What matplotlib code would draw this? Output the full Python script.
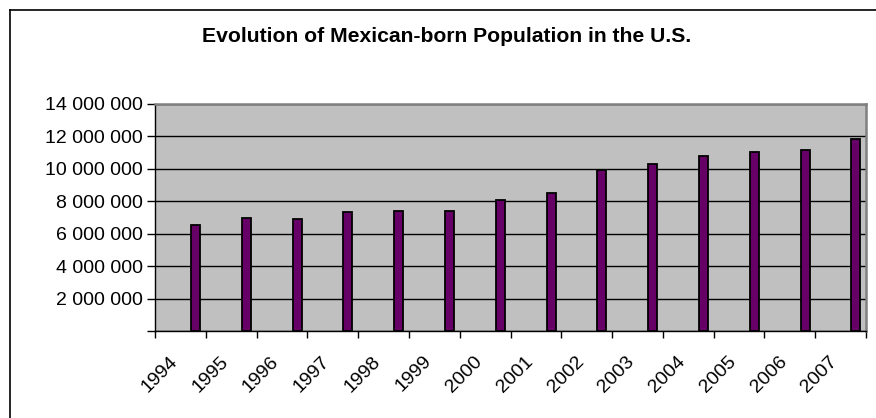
import matplotlib
matplotlib.use("Agg")
import matplotlib.pyplot as plt
from matplotlib.lines import Line2D
import numpy as np

plt.rcParams["font.family"] = ["Liberation Sans", "DejaVu Sans"]

years = ["1994", "1995", "1996", "1997", "1998", "1999", "2000",
         "2001", "2002", "2003", "2004", "2005", "2006", "2007"]
population = [6_510_000, 6_960_000, 6_880_000, 7_340_000, 7_380_000, 7_420_000, 8_070_000,
              8_510_000, 9_950_000, 10_270_000, 10_780_000, 11_050_000, 11_150_000, 11_840_000]
y_ticks = [0, 2_000_000, 4_000_000, 6_000_000, 8_000_000, 10_000_000, 12_000_000, 14_000_000]
y_labels = ["", "2 000 000", "4 000 000", "6 000 000", "8 000 000",
            "10 000 000", "12 000 000", "14 000 000"]

fig = plt.figure(figsize=(8.76, 4.18), dpi=100)
ax = fig.add_axes([155 / 876, 1 - 331 / 418, 711 / 876, 227 / 418])
ax.set_facecolor("#c0c0c0")

x = np.arange(len(years))
ax.bar(x + 0.8, population, width=0.177, color="#660066",
       edgecolor="black", linewidth=1.3, zorder=3)

ax.set_xlim(0, len(years))
ax.set_ylim(0, 14_000_000)

# y axis: space-grouped labels, black gridlines
ax.set_yticks(y_ticks)
ax.set_yticklabels(y_labels, fontsize=14)
ax.yaxis.grid(True, color="black", linewidth=1.0, zorder=1)
ax.tick_params(axis="y", direction="out", length=6, width=1, pad=3)

# x axis: tick marks on category boundaries, labels between them
ax.set_xticks(np.arange(len(years) + 1), minor=True)
ax.tick_params(axis="x", which="minor", direction="out", length=5, width=1)
ax.set_xticks(x + 0.39)
ax.set_xticklabels(years, fontsize=14, rotation=45, ha="right",
                   va="center", rotation_mode="anchor")
ax.tick_params(axis="x", which="major", length=0, pad=20)

for side in ("left", "bottom"):
    ax.spines[side].set_color("black")
    ax.spines[side].set_linewidth(1.0)
for side in ("top", "right"):
    ax.spines[side].set_color("#808080")
    ax.spines[side].set_linewidth(1.8)

fig.text(447 / 876, 1 - 36 / 418, "Evolution of Mexican-born Population in the U.S.",
         ha="center", va="center", fontsize=15.2, fontweight="bold")

# chart border
fig.add_artist(Line2D([9.5 / 876, 9.5 / 876], [0, 1 - 9.5 / 418],
                      transform=fig.transFigure, color="black", linewidth=1.2))
fig.add_artist(Line2D([9.5 / 876, 1], [1 - 9.5 / 418, 1 - 9.5 / 418],
                      transform=fig.transFigure, color="black", linewidth=1.2))

fig.savefig("out.png", dpi=100)
